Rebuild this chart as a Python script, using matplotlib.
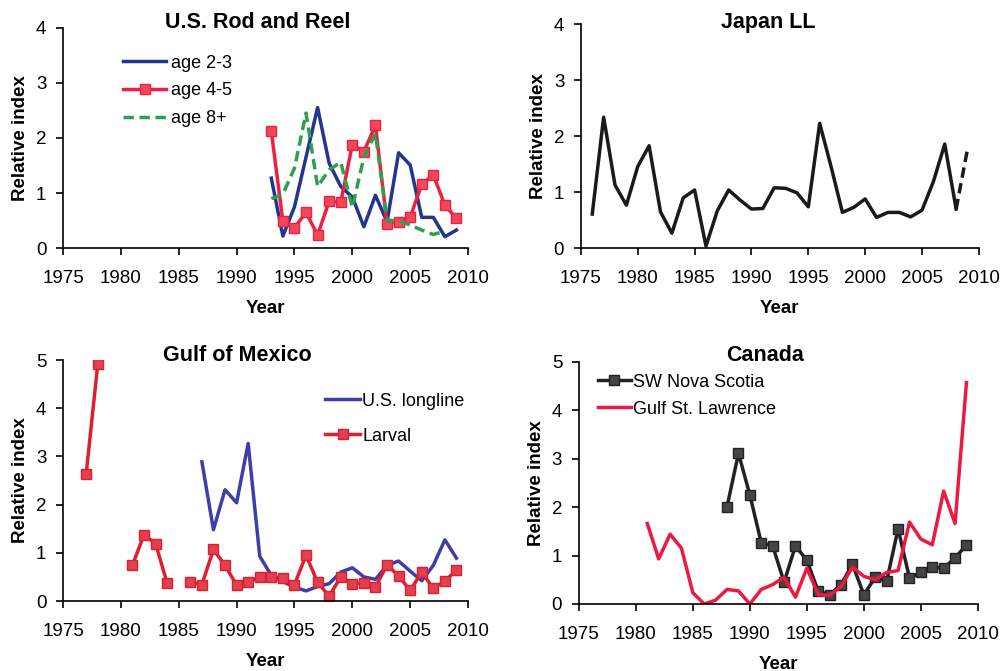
import matplotlib
matplotlib.use("Agg")
import matplotlib.pyplot as plt

plt.rcParams.update({
    "font.family": ["Liberation Sans", "DejaVu Sans"],
    "font.size": 13,
    "axes.linewidth": 1.2,
    "xtick.direction": "out",
    "ytick.direction": "out",
})

# U.S. Rod and Reel
rr_years = list(range(1993, 2010))
rr_age23 = [1.27, 0.22, 0.75, 1.65, 2.55, 1.54, 1.12, 0.93, 0.39, 0.96, 0.48, 1.73, 1.51, 0.56, 0.56, 0.21, 0.33]
rr_age45 = [2.12, 0.49, 0.37, 0.65, 0.24, 0.85, 0.83, 1.88, 1.75, 2.23, 0.44, 0.48, 0.56, 1.16, 1.33, 0.78, 0.54]
rr_years8 = list(range(1993, 2009))
rr_age8 = [0.9, 0.98, 1.45, 2.45, 1.12, 1.42, 1.56, 0.74, 1.65, 2.08, 0.5, 0.5, 0.42, 0.33, 0.25, 0.31]

# Japan LL
jp_years = list(range(1976, 2009))
jp_index = [0.61, 2.34, 1.13, 0.77, 1.46, 1.83, 0.65, 0.27, 0.9, 1.04, 0.04, 0.67, 1.04, 0.86,
            0.7, 0.71, 1.08, 1.07, 0.99, 0.74, 2.23, 1.46, 0.64, 0.73, 0.88, 0.55, 0.64, 0.64,
            0.56, 0.68, 1.19, 1.86, 0.7]
jp_tail_years = [2008, 2009]
jp_tail = [0.7, 1.77]

# Gulf of Mexico
gm_ll_years = list(range(1987, 2010))
gm_longline = [2.89, 1.48, 2.31, 2.04, 3.27, 0.93, 0.53, 0.4, 0.29, 0.21, 0.3, 0.36, 0.6, 0.69,
               0.5, 0.45, 0.74, 0.83, 0.62, 0.42, 0.74, 1.27, 0.89]
gm_larval_years = [1977, 1978, 1979, 1980, 1981, 1982, 1983, 1984, 1985] + list(range(1986, 2010))
gm_larval = [2.63, 4.91, None, None, 0.74, 1.38, 1.19, 0.37, None,
             0.39, 0.34, 1.07, 0.74, 0.33, 0.39, 0.5, 0.5, 0.48, 0.34, 0.95, 0.39, 0.1, 0.5,
             0.35, 0.38, 0.29, 0.75, 0.52, 0.22, 0.6, 0.26, 0.42, 0.64]

# Canada
ns_years = list(range(1988, 2010))
ns_index = [2.01, 3.11, 2.25, 1.26, 1.2, 0.45, 1.2, 0.9, 0.26, 0.19, 0.4, 0.82, 0.19, 0.55,
            0.47, 1.55, 0.54, 0.65, 0.76, 0.74, 0.95, 1.22]
gsl_years = list(range(1981, 2010))
gsl_index = [1.66, 0.93, 1.44, 1.15, 0.23, 0.0, 0.08, 0.3, 0.27, 0.0, 0.3, 0.4, 0.55, 0.14,
             0.74, 0.19, 0.18, 0.36, 0.76, 0.57, 0.5, 0.65, 0.69, 1.69, 1.34, 1.22, 2.33, 1.66, 4.57]

year_ticks = list(range(1975, 2011, 5))

fig = plt.figure(figsize=(10.05, 6.71), dpi=100)
ax_rr = fig.add_axes([0.0627, 0.630, 0.403, 0.329])
ax_jp = fig.add_axes([0.578, 0.630, 0.396, 0.334])
ax_gm = fig.add_axes([0.0627, 0.1043, 0.403, 0.359])
ax_ca = fig.add_axes([0.576, 0.0999, 0.397, 0.361])


def style(ax, ymax, title, tx, ty):
    ax.set_xlim(1975, 2010)
    ax.set_ylim(0, ymax)
    ax.set_xticks(year_ticks)
    ax.set_yticks(range(ymax + 1))
    for side in ("top", "right"):
        ax.spines[side].set_visible(False)
    ax.tick_params(axis="x", length=5, width=1.2, pad=11, labelsize=13.5)
    ax.tick_params(axis="y", length=5, width=1.2, pad=7, labelsize=13.5)
    ax.set_xlabel("Year", fontsize=13.5, fontweight="bold", labelpad=9)
    ax.set_ylabel("Relative index", fontsize=13.5, fontweight="bold", labelpad=5)
    ax.text(tx, ty, title, transform=ax.transAxes, ha="center", va="center",
            fontsize=15.5, fontweight="bold")


lw = 2.5

ax_rr.plot(rr_years, rr_age23, color="#23358F", lw=lw, label="age 2-3")
ax_rr.plot(rr_years, rr_age45, color="#EE2040", lw=lw, marker="s", ms=6.5,
           mfc="#F0485A", mec="#EE2040", label="age 4-5")
ax_rr.plot(rr_years8, rr_age8, color="#2F9E50", lw=lw, ls=(0, (3, 1.6)), label="age 8+")
style(ax_rr, 4, "U.S. Rod and Reel", 0.48, 1.023)
ax_rr.legend(loc="upper left", bbox_to_anchor=(0.13, 0.91), frameon=False, fontsize=13,
             handlelength=2.4, handletextpad=0.25, labelspacing=0.6, borderaxespad=0)

ax_jp.plot(jp_years, jp_index, color="#1A1A1A", lw=lw)
ax_jp.plot(jp_tail_years, jp_tail, color="#1A1A1A", lw=lw, ls=(0, (3, 1.6)))
style(ax_jp, 4, "Japan LL", 0.47, 1.009)

ax_gm.plot(gm_ll_years, gm_longline, color="#3E3EAA", lw=lw, label="U.S. longline")
ax_gm.plot(gm_larval_years, gm_larval, color="#DD1F30", lw=lw, marker="s", ms=6.5,
           mfc="#E04050", mec="#DD1F30", label="Larval")
style(ax_gm, 5, "Gulf of Mexico", 0.43, 1.02)
ax_gm.legend(loc="upper left", bbox_to_anchor=(0.63, 0.895), frameon=False, fontsize=13,
             handlelength=1.9, handletextpad=0.15, labelspacing=1.0, borderaxespad=0)

ax_ca.plot(ns_years, ns_index, color="#222222", lw=lw, marker="s", ms=6.5,
           mfc="#444444", mec="#222222", label="SW Nova Scotia")
ax_ca.plot(gsl_years, gsl_index, color="#EC1A40", lw=lw, label="Gulf St. Lawrence")
style(ax_ca, 5, "Canada", 0.467, 1.025)
ax_ca.legend(loc="upper left", bbox_to_anchor=(0.03, 0.98), frameon=False, fontsize=13,
             handlelength=1.8, handletextpad=0.15, labelspacing=0.55, borderaxespad=0)

fig.savefig("out.png", dpi=100, facecolor="white")
